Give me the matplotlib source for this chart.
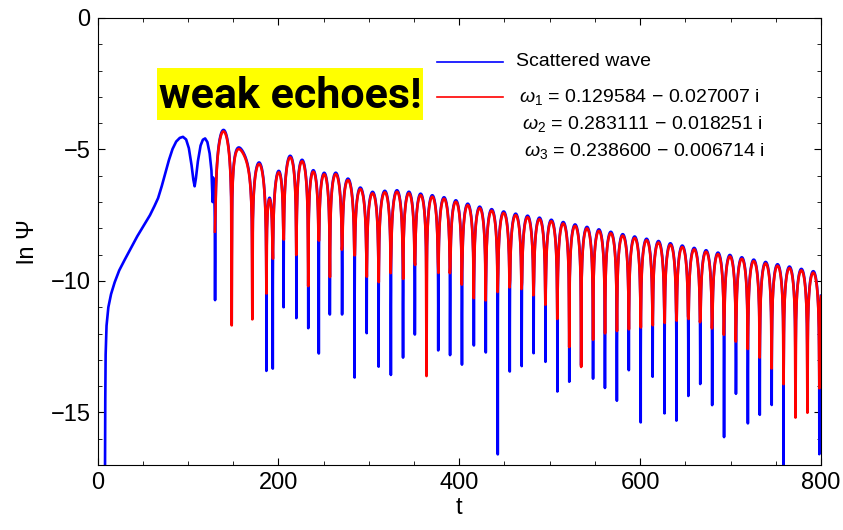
import numpy as np
import matplotlib
matplotlib.use("Agg")
import matplotlib.pyplot as plt
from matplotlib.lines import Line2D
from matplotlib.patches import Rectangle

plt.rcParams['font.family'] = ['Liberation Sans', 'DejaVu Sans']
plt.rcParams['mathtext.fontset'] = 'custom'
plt.rcParams['mathtext.rm'] = 'Liberation Sans'
plt.rcParams['mathtext.it'] = 'Liberation Sans:italic'

# quasinormal frequencies of the fit, omega = re - i*im
omega_re = [0.129584, 0.283111, 0.238600]
omega_im = [0.027007, 0.018251, 0.006714]
# log amplitudes and phases of the three modes at t0
mode_lnamp = [-4.4028, -5.0743, -5.2470]
mode_phase = [0.8311, 2.3717, -2.3725]
t0 = 130.0
scatter_gain = 1.06   # scattered wave sits a bit above the fit

# scattered wave before the ringdown sets in
early_t = [8.3, 8.6, 9.0, 10.0, 12.0, 15.0, 19.0, 24.0, 30.0, 37.0, 44.0, 51.0,
           58.0, 63.0, 67.0, 71.0, 75.0, 79.0, 83.0, 87.0, 91.0, 94.5, 98.0, 101.0,
           104.0, 106.0, 107.4, 108.8, 111.0, 114.0, 116.5, 119.0, 121.5, 124.0,
           126.0, 127.3]
early_v = [-17.2, -14.5, -12.8, -11.7, -11.0, -10.5, -10.05, -9.6, -9.2, -8.75,
           -8.3, -7.9, -7.5, -7.15, -6.85, -6.4, -5.9, -5.4, -4.98, -4.7,
           -4.56, -4.52, -4.62, -4.95, -5.6, -6.15, -6.4, -6.1, -5.45, -4.85,
           -4.63, -4.58, -4.72, -5.15, -5.8, -7.0]

legend_labels = ["Scattered wave",
                 r"$\omega_1$ = 0.129584 − 0.027007 i",
                 r"$\omega_2$ = 0.283111 − 0.018251 i",
                 r"$\omega_3$ = 0.238600 − 0.006714 i"]

wr = np.array(omega_re)
wi = np.array(omega_im)
amp = np.exp(mode_lnamp)
phs = np.array(mode_phase)


def ringdown(t, scale=1.0):
    s = t[:, None] - t0
    return scale * np.sum(amp * np.exp(-wi * s) * np.cos(wr * s - phs), axis=1)


tb = np.arange(127.8, 800.0, 0.05)
tr = np.arange(129.8, 800.0, 0.6)
blue_t = np.concatenate([early_t, tb])
blue_v = np.concatenate([early_v, np.log(np.abs(ringdown(tb, scatter_gain)))])
red_v = np.log(np.abs(ringdown(tr)))

W, H = 843, 530
fig = plt.figure(figsize=(W / 100, H / 100), dpi=100)
ax = fig.add_axes([97.5 / W, 1 - 465 / H, (821 - 97.5) / W, (465 - 18) / H])
ax.plot(blue_t, blue_v, color=(0, 0, 1), lw=1.9)
ax.plot(tr, red_v, color=(1, 0, 0), lw=1.9)
ax.set_xlim(0, 800)
ax.set_ylim(-17, 0)
ax.set_xticks(np.arange(0, 801, 200))
ax.set_xticks(np.arange(0, 801, 50), minor=True)
ax.set_yticks([-15, -10, -5, 0])
ax.set_yticks(np.arange(-17, 0.1, 1), minor=True)
ax.tick_params(which='both', direction='in', top=True, right=True, labelsize=17, pad=5)
ax.tick_params(which='major', length=5, width=0.8)
ax.tick_params(which='minor', length=3, width=0.6)
for sp in ax.spines.values():
    sp.set_linewidth(0.8)
ax.set_xlabel('t', fontsize=17, labelpad=2)
ax.set_ylabel('ln Ψ', fontsize=17, labelpad=8)


# legend drawn by hand in pixel positions
def fx(x):
    return x / W


def fy(y):
    return 1 - y / H


fig.add_artist(Line2D([fx(437), fx(503)], [fy(62), fy(62)], color=(0, 0, 1), lw=1.2))
fig.add_artist(Line2D([fx(437), fx(503)], [fy(97), fy(97)], color=(1, 0, 0), lw=1.2))
legend_pos = [(516, 62), (519, 97), (522, 124), (524, 151)]
for lab, (x, y) in zip(legend_labels, legend_pos):
    fig.text(fx(x), fy(y), lab, fontsize=14, ha='left', va='center')

# highlighted note
fig.add_artist(Rectangle((fx(157), fy(120)), fx(423) - fx(157), fy(68) - fy(120),
                         transform=fig.transFigure, facecolor='#ffff00', edgecolor='none'))
fig.text(fx(290), fy(108), 'weak echoes!', fontsize=31, fontweight='bold',
         family=['Roboto', 'Liberation Sans'], ha='center', va='baseline')

fig.savefig('out.png', dpi=100)
